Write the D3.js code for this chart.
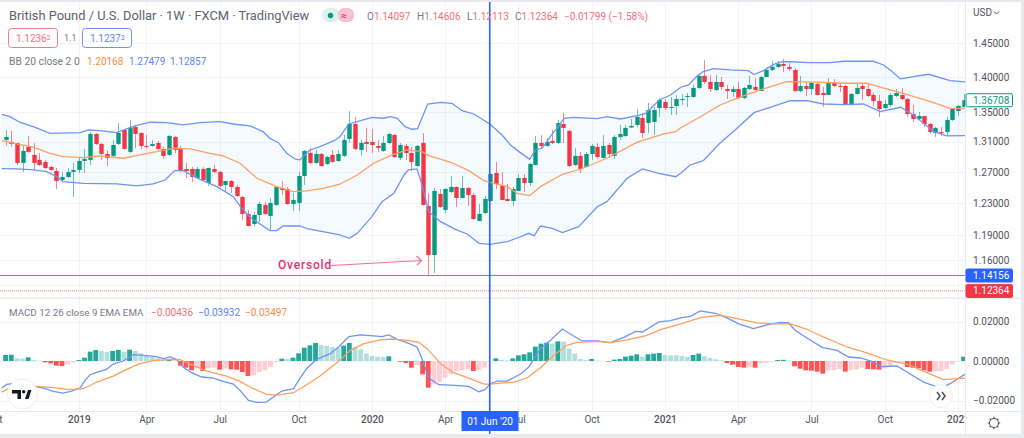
<!DOCTYPE html>
<html>
<head>
<meta charset="utf-8">
<script src="https://cdn.jsdelivr.net/npm/d3@7"></script>
<style>
html, body { margin: 0; padding: 0; background: #fff; }
svg { display: block; font-family: Roboto, sans-serif; }
.axis path, .axis line { display: none; }
.axis text { fill: #50535e; font-size: 10px; font-family: Roboto, sans-serif; }
</style>
</head>
<body>
<svg id="chart" width="1024" height="438"></svg>
<script>
// weekly candles
var opens = [1.3124,1.3097,1.3083,1.2817,1.3030,1.2923,1.2857,1.2830,1.2764,1.2712,
1.2594,1.2633,1.2699,1.2725,1.2843,1.2857,1.3205,1.3070,1.2936,1.2910,
1.3070,1.3259,1.2963,1.3300,1.3218,1.3043,1.3043,1.3083,1.3003,1.2923,
1.3164,1.3003,1.2738,1.2738,1.2620,1.2738,1.2555,1.2738,1.2699,1.2530,
1.2581,1.2504,1.2376,1.2162,1.2037,1.2149,1.2275,1.2137,1.2275,1.2491,
1.2478,1.2287,1.2300,1.2646,1.2949,1.2817,1.2936,1.2804,1.2923,1.2843,
1.2910,1.3137,1.3341,1.2989,1.3097,1.3097,1.3043,1.2976,1.3083,1.3191,
1.2883,1.3043,1.2949,1.2777,1.3083,1.2262,1.1659,1.2414,1.2212,1.2440,
1.2504,1.2363,1.2491,1.2401,1.2074,1.2174,1.2325,1.2685,1.2517,1.2351,
1.2325,1.2453,1.2620,1.2555,1.2790,1.3083,1.3043,1.3110,1.3083,1.3341,
1.3246,1.2790,1.2910,1.2764,1.2936,1.3030,1.2883,1.3056,1.2910,1.3164,
1.3178,1.3293,1.3328,1.3424,1.3355,1.3369,1.3562,1.3646,1.3562,1.3590,
1.3674,1.3717,1.3717,1.3845,1.4017,1.3930,1.3816,1.3930,1.3830,1.3788,
1.3830,1.3703,1.3830,1.3859,1.3802,1.4002,1.4104,1.4147,1.4191,1.4147,
1.4104,1.3802,1.3873,1.3830,1.3902,1.3773,1.3745,1.3916,1.3873,1.3873,
1.3604,1.3759,1.3873,1.3830,1.3745,1.3660,1.3562,1.3604,1.3731,1.3745,
1.3688,1.3479,1.3410,1.3451,1.3341,1.3218,1.3232,1.3232,1.3396,1.3521,
1.3576];
var highs = [1.3259,1.3246,1.3090,1.3056,1.3178,1.3083,1.2949,1.2857,1.2777,1.2751,
1.2699,1.2751,1.2817,1.2883,1.3003,1.3232,1.3218,1.3083,1.2989,1.3124,
1.3355,1.3273,1.3396,1.3328,1.3232,1.3191,1.3124,1.3110,1.3030,1.3191,
1.3178,1.3043,1.2817,1.2764,1.2764,1.2764,1.2755,1.2790,1.2712,1.2585,
1.2594,1.2530,1.2389,1.2212,1.2187,1.2313,1.2313,1.2363,1.2517,1.2581,
1.2504,1.2427,1.2699,1.2989,1.3016,1.2989,1.2949,1.2910,1.2989,1.2989,
1.3191,1.3521,1.3438,1.3124,1.3287,1.3273,1.3124,1.3178,1.3218,1.3205,
1.3083,1.3070,1.3030,1.3056,1.3218,1.2427,1.2491,1.2478,1.2491,1.2646,
1.2510,1.2646,1.2504,1.2427,1.2287,1.2389,1.2685,1.2830,1.2699,1.2543,
1.2504,1.2672,1.2672,1.2817,1.3178,1.3191,1.3151,1.3259,1.3396,1.3493,
1.3259,1.3016,1.2963,1.2963,1.3070,1.3083,1.3191,1.3083,1.3191,1.3328,
1.3328,1.3410,1.3548,1.3493,1.3632,1.3576,1.3703,1.3688,1.3717,1.3745,
1.3759,1.3773,1.3887,1.4046,1.4249,1.4031,1.4031,1.4002,1.3887,1.3873,
1.3930,1.3859,1.4017,1.3988,1.4017,1.4133,1.4234,1.4234,1.4264,1.4205,
1.4133,1.4017,1.3930,1.3930,1.3930,1.3859,1.3988,1.3974,1.3916,1.3887,
1.3773,1.3902,1.3902,1.3916,1.3773,1.3745,1.3674,1.3773,1.3830,1.3845,
1.3703,1.3604,1.3507,1.3455,1.3355,1.3300,1.3300,1.3438,1.3562,1.3604,
1.3759];
var lows = [1.3043,1.3030,1.2790,1.2699,1.2949,1.2725,1.2777,1.2738,1.2712,1.2478,
1.2568,1.2620,1.2376,1.2685,1.2685,1.2790,1.3056,1.2857,1.2777,1.2896,
1.3056,1.2989,1.2949,1.3016,1.3003,1.3003,1.3030,1.2989,1.2870,1.2910,
1.2949,1.2699,1.2620,1.2568,1.2607,1.2590,1.2517,1.2685,1.2504,1.2440,
1.2427,1.2376,1.2087,1.2008,1.2012,1.2062,1.2149,1.1963,1.2262,1.2401,
1.2275,1.2199,1.2199,1.2530,1.2804,1.2804,1.2764,1.2790,1.2817,1.2830,
1.2896,1.3083,1.2989,1.2910,1.2963,1.2949,1.2963,1.2963,1.3070,1.2883,
1.2857,1.2857,1.2712,1.2764,1.2270,1.1416,1.1445,1.2237,1.2174,1.2427,
1.2249,1.2360,1.2262,1.2087,1.2070,1.2162,1.2313,1.2478,1.2335,1.2320,
1.2262,1.2450,1.2440,1.2517,1.2785,1.3003,1.3030,1.3070,1.3070,1.3083,
1.2764,1.2777,1.2685,1.2760,1.2857,1.2870,1.2880,1.2883,1.2870,1.3124,
1.3164,1.3287,1.3300,1.3151,1.3218,1.3191,1.3438,1.3535,1.3465,1.3465,
1.3604,1.3576,1.3703,1.3830,1.3902,1.3788,1.3802,1.3816,1.3688,1.3717,
1.3688,1.3688,1.3816,1.3810,1.3795,1.3998,1.4089,1.4133,1.4075,1.4089,
1.3788,1.3788,1.3731,1.3745,1.3740,1.3576,1.3740,1.3859,1.3788,1.3598,
1.3598,1.3752,1.3674,1.3717,1.3590,1.3438,1.3548,1.3576,1.3717,1.3674,
1.3438,1.3369,1.3396,1.3300,1.3205,1.3164,1.3178,1.3178,1.3383,1.3451,
1.3570];
var closes = [1.3164,1.3070,1.2817,1.2976,1.2963,1.2817,1.2790,1.2751,1.2725,1.2581,
1.2633,1.2699,1.2725,1.2843,1.2870,1.3205,1.3070,1.2936,1.2883,1.3056,
1.3218,1.3003,1.3287,1.3205,1.3043,1.3030,1.3070,1.3003,1.2910,1.3178,
1.2989,1.2712,1.2712,1.2633,1.2738,1.2594,1.2751,1.2699,1.2517,1.2581,
1.2504,1.2389,1.2162,1.2012,1.2149,1.2287,1.2162,1.2300,1.2504,1.2465,
1.2287,1.2338,1.2646,1.2976,1.2817,1.2936,1.2777,1.2896,1.2830,1.2936,
1.3124,1.3341,1.3003,1.3083,1.3070,1.3056,1.3016,1.3083,1.3205,1.2896,
1.3056,1.2949,1.2830,1.3043,1.2275,1.1659,1.2453,1.2249,1.2478,1.2504,
1.2363,1.2491,1.2401,1.2099,1.2162,1.2351,1.2672,1.2543,1.2338,1.2325,
1.2478,1.2620,1.2555,1.2804,1.3083,1.3043,1.3097,1.3083,1.3355,1.3287,
1.2777,1.2910,1.2738,1.2936,1.3043,1.2896,1.3043,1.2936,1.3164,1.3205,
1.3287,1.3314,1.3438,1.3218,1.3535,1.3535,1.3674,1.3562,1.3576,1.3688,
1.3688,1.3731,1.3845,1.4017,1.3930,1.3830,1.3930,1.3859,1.3802,1.3830,
1.3703,1.3845,1.3887,1.3816,1.4002,1.4104,1.4147,1.4191,1.4162,1.4118,
1.3802,1.3873,1.3830,1.3916,1.3745,1.3745,1.3916,1.3873,1.3859,1.3604,
1.3759,1.3845,1.3830,1.3731,1.3660,1.3548,1.3618,1.3745,1.3773,1.3688,
1.3479,1.3410,1.3451,1.3341,1.3232,1.3287,1.3225,1.3396,1.3548,1.3590,
1.36708];

// bollinger bands: candle number + price, read where the line bends
var upperIdx = [-0.7,0.8,2.5,4.9,7.9,13.2,14.7,16.7,19.7,21.8,23,25.6,28.6,31.5,34.5,38,40.4,43.4,45.7,46.9,48.4,49.9,51.4,52.2,54,55.8,58.2,59.3,60.9,63,65,67.1,68.3,69.5,70.9,72.1,73.1,74.9,77.2,79.2,81,83.1,86,88.1,89.6,91.1,93,94,95.2,97.3,97.9,99.1,100.8,105,106.7,109.1,112.1,113.6,116,118,119.8,121.2,122.7,123.8,125.6,128.6,131.8,132.8,134.5,136.3,137.8,139.2,142.8,146.3,148.7,154,155.8,157.3,158.8,161.1,163.8,167.6,170.3];
var upperVals = [1.3475,1.3441,1.3365,1.3304,1.3214,1.3222,1.3259,1.3250,1.3222,1.3283,1.3314,1.3365,1.3360,1.3328,1.3360,1.3373,1.3341,1.3314,1.3236,1.3147,1.3087,1.2945,1.2866,1.2857,1.2989,1.3034,1.3110,1.3168,1.3341,1.3386,1.3433,1.3420,1.3441,1.3420,1.3304,1.3269,1.3277,1.3618,1.3642,1.3628,1.3525,1.3479,1.3337,1.3191,1.3056,1.2967,1.2866,1.2989,1.3012,1.3236,1.3283,1.3420,1.3433,1.3415,1.3441,1.3410,1.3456,1.3488,1.3674,1.3745,1.3855,1.3887,1.4017,1.4080,1.4122,1.4104,1.4094,1.4036,1.4094,1.4185,1.4223,1.4223,1.4209,1.4209,1.4230,1.4230,1.4176,1.4080,1.3974,1.4006,1.4041,1.3949,1.3930];
var lowerIdx = [-0.7,2,4.9,7.3,9.1,10.2,13.8,19.7,23.3,26.2,28.3,30,31.5,34.5,37.5,40.4,41.9,43.4,45.4,46.9,48.1,49.3,52.2,53.7,59.3,61,62.4,65,66.8,68.9,70.7,71.5,73,73.9,75.1,77.2,79.8,81.9,84,86,89,91.4,92.8,93.8,94.9,97,98.8,101.7,105,106.7,110.3,113,115.9,118.9,119.8,121.5,123.8,126.8,129.8,132.8,135.7,139.2,142.2,145.1,148.7,152.2,155.2,158.8,161.1,164.7,167,170.3];
var lowerVals = [1.2742,1.2738,1.2725,1.2703,1.2637,1.2572,1.2551,1.2543,1.2517,1.2543,1.2594,1.2716,1.2716,1.2603,1.2508,1.2380,1.2233,1.2120,1.2025,1.1956,1.1956,1.2012,1.2012,1.1975,1.1902,1.1861,1.1922,1.2128,1.2316,1.2423,1.2659,1.2725,1.2738,1.2530,1.2190,1.2066,1.1971,1.1914,1.1800,1.1788,1.1820,1.1880,1.1922,1.1890,1.2012,1.1983,1.1930,1.2004,1.2253,1.2316,1.2616,1.2738,1.2681,1.2637,1.2681,1.2790,1.2848,1.3083,1.3283,1.3497,1.3572,1.3664,1.3664,1.3618,1.3608,1.3618,1.3511,1.3572,1.3465,1.3236,1.3178,1.3182];
var basisIdx = [-0.7,2,4.9,7.9,10.2,13.8,16.7,20.9,23.8,26.8,29.8,32.7,36.3,38.6,41.6,44.6,48.1,51.1,53.4,56.4,59.3,62.4,65.3,68.3,71.2,73.9,75.1,79,82.2,84.9,86.6,89,90.8,93,94.9,98.8,102,106.7,112.1,116.8,118.9,119.7,123.3,126.8,130.1,133.9,138.6,143.4,149.3,152.8,155.2,159.9,164.1,167.6,170.3];
var basisVals = [1.3114,1.3070,1.3026,1.2945,1.2900,1.2887,1.2910,1.2879,1.2923,1.2967,1.3012,1.3003,1.2945,1.2910,1.2813,1.2616,1.2508,1.2444,1.2453,1.2487,1.2539,1.2659,1.2813,1.2914,1.2989,1.2967,1.2914,1.2826,1.2716,1.2585,1.2551,1.2508,1.2423,1.2393,1.2508,1.2668,1.2734,1.2879,1.3093,1.3205,1.3236,1.3283,1.3441,1.3604,1.3707,1.3816,1.3935,1.3927,1.3912,1.3912,1.3855,1.3755,1.3652,1.3558,1.3558];

// macd pane
var macdIdx = [-0.7,0.2,1.4,3.1,4.9,6.7,8.5,10.2,11.7,13.2,14.1,15,16.2,17.9,19.1,20.9,22.7,25,26.8,28,29.2,30.4,31.5,33,34.8,36.9,38.6,40.4,41.6,43.1,44.6,46.3,47.5,49,51.1,52.2,53.4,55.2,57.6,59.1,60.9,63,65.3,66.8,68,69.5,71.2,73,73.9,75.1,76.9,78.9,82.2,84,85.1,86,87.2,89,91.4,92.8,94.9,96.7,98.8,100.8,102.3,105,107.3,109.7,111.8,113,115.9,118,119.8,121.5,123.3,125.9,128,130.1,132.7,135.1,137.5,138.9,140.1,142.2,144.9,147.5,149.6,151.7,153.7,155.5,158.2,160.5,162.9,165.9,167.6,170.3];
var macdVals = [-0.01369,-0.01183,-0.01132,-0.01166,-0.01268,-0.01369,-0.01538,-0.01622,-0.01521,-0.01369,-0.0098,-0.00693,-0.00575,-0.00423,-0.00152,0,0.00321,0.0027,0.0022,0.00118,0.00203,0.00068,-0.00304,-0.00592,-0.00811,-0.00862,-0.01031,-0.01166,-0.01487,-0.01994,-0.02096,-0.02079,-0.01825,-0.01521,-0.01403,-0.00896,-0.00389,0.00085,0.00372,0.0071,0.01234,0.01318,0.01268,0.01234,0.01318,0.01099,0.0093,0.0071,0.00118,-0.00862,-0.012,-0.01217,-0.01284,-0.01555,-0.01453,-0.01149,-0.01014,-0.01014,-0.00659,-0.00321,0.00625,0.01048,0.01622,0.01268,0.01014,0.01014,0.0093,0.012,0.01504,0.0147,0.01977,0.02045,0.0218,0.02265,0.02535,0.02417,0.0218,0.01876,0.01639,0.01825,0.0196,0.01944,0.01555,0.01166,0.00693,0.00541,0.00203,0.00152,-0.00017,-0.00287,-0.00254,-0.00659,-0.01065,-0.01369,-0.01149,-0.00659];
var signalIdx = [-0.7,2,4.9,8.5,11.4,13.8,16.2,19.1,21.5,23.8,26.2,29.2,30.9,33.3,35.7,39.2,41.6,44,46.3,48.1,51.1,53.4,55.8,59.1,61.2,63.6,66.5,68.6,71.2,73.3,74.8,77.2,79.5,82.2,84.9,86,90.2,92.5,94.9,97.3,99.6,101.4,105,107.3,110.3,113.8,116.2,119.8,123.3,126.8,129.8,133.3,136.9,139.2,142.2,145.1,149.3,152.8,156.4,159.9,163.5,166.4,170.3];
var signalVals = [-0.01572,-0.012,-0.01268,-0.01352,-0.01453,-0.01403,-0.01065,-0.00761,-0.00423,-0.00135,0.00017,0.00085,0.00068,-0.0022,-0.00507,-0.00761,-0.01031,-0.01403,-0.0169,-0.01724,-0.01606,-0.012,-0.00761,-0.00017,0.00541,0.00879,0.01065,0.01115,0.01048,0.00946,0.00625,-0.00135,-0.00592,-0.00862,-0.01166,-0.01166,-0.01065,-0.00862,-0.00338,0.00287,0.00794,0.00946,0.00997,0.0093,0.01065,0.01301,0.01589,0.01876,0.02197,0.02315,0.02146,0.01927,0.01876,0.01893,0.01606,0.01217,0.0071,0.00406,0.00051,-0.00152,-0.00592,-0.00946,-0.00862];
var histVals = [0.00304,0.00321,0.00135,0.00118,0.00186,0.00051,0.00017,-0.00068,-0.00118,-0.00237,
-0.00254,-0.00169,-0.00085,0.00051,0.00169,0.00473,0.00558,0.00507,0.00456,0.00507,
0.00558,0.00473,0.00575,0.00507,0.00389,0.0027,0.00203,0.00135,0.00051,0.00085,
0.00017,-0.00237,-0.00338,-0.00473,-0.00372,-0.00507,-0.00372,-0.00338,-0.00439,-0.00372,
-0.00423,-0.00439,-0.00558,-0.0076,-0.00727,-0.00558,-0.00473,-0.00304,-0.00051,0.00118,
0.00101,0.00169,0.00389,0.00676,0.00794,0.00913,0.00811,0.0076,0.0071,0.00642,
0.00777,0.00913,0.0071,0.00592,0.00389,0.00254,0.0022,0.00203,0.00237,0.00008,
-0.00034,-0.00101,-0.00338,-0.00203,-0.00676,-0.01352,-0.01183,-0.01048,-0.00845,-0.00676,
-0.00507,-0.00473,-0.00406,-0.00507,-0.00473,-0.00338,-0.00005,0.00135,0.00051,0.00034,
0.00135,0.00287,0.00338,0.00439,0.00727,0.00879,0.0093,0.00879,0.00997,0.0098,
0.00625,0.00372,0.00101,0.00051,0.00101,0.00017,0.00008,-0.00034,0.00068,0.00101,
0.0022,0.0027,0.00338,0.0022,0.00338,0.00372,0.00406,0.00304,0.00287,0.00287,
0.00254,0.00203,0.00304,0.00372,0.00237,0.00152,0.00085,0.00034,-0.00101,-0.00186,
-0.00304,-0.00338,-0.00304,-0.00338,-0.00118,-0.00085,-0.00034,0.00051,0.00059,0.00017,
-0.0027,-0.00389,-0.00473,-0.0049,-0.00541,-0.00642,-0.00473,-0.00456,-0.00406,-0.00541,
-0.00473,-0.00423,-0.00338,-0.00406,-0.00423,-0.00439,-0.00372,-0.00254,-0.00085,-0.00051,
-0.00304,-0.00338,-0.00372,-0.00473,-0.00541,-0.00524,-0.00507,-0.00406,-0.00169,-0.00017,
0.0022];

// axis labels
var priceTicks = [1.45,1.40,1.35,1.31,1.27,1.23,1.19,1.16];
var hiddenGridTick = 1.13; // its label sits under the price tags
var macdTicks = [0.02,0,-0.02];
var timeTickIdx = [-2,13,25,38,52,65,78,91,104,117,130,143,156,169];
var timeTickText = ["Oct","2019","Apr","Jul","Oct","2020","Apr","Jul","Oct","2021","Apr","Jul","Oct","2022"];
var boldTicks = ["2019","2020","2021","2022"];
var cursorIdx = 86;
var lastPrice = 1.12364;
var lineLevel = 1.14156;
var shownClose = 1.36708;

var upCol = "#089981", downCol = "#f23645";
var blue = "#2962ff", bandLine = "#6f93f7", orange = "#ff9f5e";
var gridCol = "#f1f3f8", txtCol = "#50535e";

var svg = d3.select("#chart");

var x = d3.scaleLinear().domain([0, 170]).range([5.6, 963.6]);
var y = d3.scaleLog().domain([1.45, 1.14156]).range([43, 275.5]);
var yM = d3.scaleLinear().domain([0.02, -0.02]).range([321.5, 400.5]);

var defs = svg.append("defs");
defs.append("clipPath").attr("id", "pricePane").append("rect").attr("x", 0).attr("y", 2).attr("width", 965).attr("height", 295);
defs.append("clipPath").attr("id", "macdPane").append("rect").attr("x", 0).attr("y", 299).attr("width", 965).attr("height", 112);
defs.append("clipPath").attr("id", "timePane").append("rect").attr("x", 0).attr("y", 411).attr("width", 965).attr("height", 24);

// grid
var grid = svg.append("g").attr("stroke", gridCol).attr("stroke-width", 1);
grid.selectAll(".hp").data(priceTicks.concat([hiddenGridTick])).enter().append("line")
    .attr("x1", 0).attr("x2", 965)
    .attr("y1", d => Math.round(y(d)) + 0.5).attr("y2", d => Math.round(y(d)) + 0.5);
grid.selectAll(".hm").data(macdTicks).enter().append("line")
    .attr("x1", 0).attr("x2", 965)
    .attr("y1", d => Math.round(yM(d)) + 0.5).attr("y2", d => Math.round(yM(d)) + 0.5);
grid.selectAll(".vg").data(timeTickIdx).enter().append("line")
    .attr("x1", d => Math.round(x(d)) + 0.5).attr("x2", d => Math.round(x(d)) + 0.5)
    .attr("y1", 2).attr("y2", 411);

// bollinger band
var pricePane = svg.append("g").attr("clip-path", "url(#pricePane)");
var upperPts = upperIdx.map((d, i) => [x(d), y(upperVals[i])]);
var lowerPts = lowerIdx.map((d, i) => [x(d), y(lowerVals[i])]);
var lineGen = d3.line();
pricePane.append("path")
    .attr("d", lineGen(upperPts.concat(lowerPts.slice().reverse())) + "Z")
    .attr("fill", "#2196f3").attr("fill-opacity", 0.05);

// candles
var cand = pricePane.selectAll(".candle").data(d3.range(opens.length)).enter().append("g");
cand.append("line")
    .attr("x1", d => Math.round(x(d)) + 0.5).attr("x2", d => Math.round(x(d)) + 0.5)
    .attr("y1", d => y(highs[d])).attr("y2", d => y(lows[d]))
    .attr("stroke", d => closes[d] >= opens[d] ? upCol : downCol)
    .attr("stroke-opacity", 0.6);
cand.append("rect")
    .attr("x", d => Math.round(x(d)) - 1.7)
    .attr("width", 4.4)
    .attr("y", d => y(Math.max(opens[d], closes[d])))
    .attr("height", d => Math.max(1, y(Math.min(opens[d], closes[d])) - y(Math.max(opens[d], closes[d]))))
    .attr("fill", d => closes[d] >= opens[d] ? upCol : downCol);

pricePane.append("path").attr("d", lineGen(upperPts)).attr("fill", "none").attr("stroke", bandLine).attr("stroke-width", 1.3);
pricePane.append("path").attr("d", lineGen(lowerPts)).attr("fill", "none").attr("stroke", bandLine).attr("stroke-width", 1.3);
pricePane.append("path").attr("d", lineGen(basisIdx.map((d, i) => [x(d), y(basisVals[i])])))
    .attr("fill", "none").attr("stroke", orange).attr("stroke-width", 1.3);

// horizontal level + last price line
pricePane.append("line").attr("x1", 0).attr("x2", 965).attr("y1", y(lineLevel)).attr("y2", y(lineLevel))
    .attr("stroke", "#5c84f5").attr("stroke-width", 1.1);
pricePane.append("line").attr("x1", 0).attr("x2", 965).attr("y1", y(lastPrice)).attr("y2", y(lastPrice))
    .attr("stroke", "#f77c80").attr("stroke-width", 1).attr("stroke-dasharray", "1 1");

// oversold note
svg.append("text").attr("x", 278).attr("y", 269).attr("fill", "#ea2e6d").attr("font-weight", 500)
    .attr("font-size", 12).attr("letter-spacing", 0.8).text("Oversold");
svg.append("path").attr("d", "M331,265.5L421,260.5M416.5,256L421.5,260.5L417,265")
    .attr("fill", "none").attr("stroke", "#ef6f98").attr("stroke-width", 1.2);

// macd histogram and lines
var macdPane = svg.append("g").attr("clip-path", "url(#macdPane)");
function histCol(i) {
    var v = histVals[i];
    var rising = i > 0 ? v > histVals[i - 1] : true;
    if (v >= 0) return rising ? "#26a69a" : "#b2dfdb";
    return rising ? "#ffcdd2" : "#ff5252";
}
macdPane.selectAll(".bar").data(histVals).enter().append("rect")
    .attr("x", (d, i) => x(i) - 2.4)
    .attr("width", 4.8)
    .attr("y", d => Math.min(yM(d), yM(0)))
    .attr("height", d => Math.abs(yM(d) - yM(0)))
    .attr("fill", (d, i) => histCol(i));
macdPane.append("path").attr("d", lineGen(macdIdx.map((d, i) => [x(d), yM(macdVals[i])])))
    .attr("fill", "none").attr("stroke", bandLine).attr("stroke-width", 1.3);
macdPane.append("path").attr("d", lineGen(signalIdx.map((d, i) => [x(d), yM(signalVals[i])])))
    .attr("fill", "none").attr("stroke", orange).attr("stroke-width", 1.3);

// frame lines
var frame = "#e8eaf0";
svg.append("rect").attr("width", 1024).attr("height", 2).attr("fill", frame);
svg.append("rect").attr("y", 434).attr("width", 1024).attr("height", 4).attr("fill", frame);
svg.append("rect").attr("y", 297.5).attr("width", 1024).attr("height", 1.5).attr("fill", frame);
svg.append("rect").attr("x", 1021).attr("width", 3).attr("height", 438).attr("fill", frame);
svg.append("line").attr("x1", 965.5).attr("x2", 965.5).attr("y1", 2).attr("y2", 434).attr("stroke", frame);
svg.append("line").attr("x1", 0).attr("x2", 1021).attr("y1", 411.5).attr("y2", 411.5).attr("stroke", frame);

// axes
svg.append("g").attr("class", "axis").attr("transform", "translate(966,0)")
    .call(d3.axisRight(y).tickValues(priceTicks).tickFormat(d3.format(".5f")).tickSize(0).tickPadding(7));
svg.append("g").attr("class", "axis").attr("transform", "translate(966,0)")
    .call(d3.axisRight(yM).tickValues(macdTicks).tickFormat(d3.format(".5f")).tickSize(0).tickPadding(7));
var timeG = svg.append("g").attr("clip-path", "url(#timePane)").append("g")
    .attr("class", "axis").attr("transform", "translate(0,411)")
    .call(d3.axisBottom(x).tickValues(timeTickIdx).tickFormat((d, i) => timeTickText[i]).tickSize(0).tickPadding(5));
timeG.selectAll("text")
    .attr("font-weight", (d, i) => boldTicks.indexOf(timeTickText[i]) >= 0 ? 500 : 400);

svg.append("text").attr("x", 973).attr("y", 16).attr("font-size", 10).attr("fill", txtCol).text("USD");
svg.append("path").attr("d", "M994,11.5L996.5,14L999,11.5").attr("fill", "none").attr("stroke", txtCol);

// price tags
function tag(val, fill, stroke, color) {
    var t = y(val);
    svg.append("rect").attr("x", 966).attr("y", t - 6.5).attr("width", 46.5).attr("height", 13)
        .attr("rx", 1.5).attr("fill", fill).attr("stroke", stroke);
    svg.append("text").attr("x", 973).attr("y", t + 3.6).attr("font-size", 10)
        .attr("fill", color).text(d3.format(".5f")(val));
}
tag(shownClose, "#fff", upCol, upCol);
tag(lineLevel, blue, blue, "#fff");
tag(lastPrice, downCol, downCol, "#fff");

// crosshair
svg.append("line").attr("x1", x(cursorIdx) - 0.5).attr("x2", x(cursorIdx) - 0.5).attr("y1", 2).attr("y2", 434)
    .attr("stroke", blue).attr("stroke-width", 1.6);
svg.append("rect").attr("x", 461.5).attr("y", 411).attr("width", 57).attr("height", 20).attr("fill", blue);
svg.append("text").attr("x", 490).attr("y", 425).attr("text-anchor", "middle")
    .attr("font-size", 10).attr("fill", "#fff").text("01 Jun '20");

// legend
svg.append("text").attr("x", 9).attr("y", 20).attr("font-size", 12.85).attr("fill", "#5d606b")
    .text("British Pound / U.S. Dollar · 1W · FXCM · TradingView");
svg.append("rect").attr("x", 322).attr("y", 8).attr("width", 18).attr("height", 14).attr("rx", 7).attr("fill", "#dcf1ec");
svg.append("circle").attr("cx", 330.5).attr("cy", 15.5).attr("r", 2.7).attr("fill", upCol);
svg.append("rect").attr("x", 338).attr("y", 8).attr("width", 16).attr("height", 14).attr("rx", 6).attr("fill", "#f9c0d4");
svg.append("text").attr("x", 341).attr("y", 19).attr("font-size", 10).attr("fill", "#c2185b").text("≈");

var ohlcParts = [["O", "1.14097"], ["H", "1.14606"], ["L", "1.12113"], ["C", "1.12364"]];
var ohlcX = [367, 417, 467, 515];
ohlcParts.forEach(function (p, i) {
    var t = svg.append("text").attr("x", ohlcX[i]).attr("y", 20).attr("font-size", 10);
    t.append("tspan").attr("fill", "#777a85").text(p[0]);
    t.append("tspan").attr("fill", "#f4707c").text(p[1]);
});
svg.append("text").attr("x", 564).attr("y", 20).attr("font-size", 10).attr("fill", "#f4707c").text("−0.01799 (−1.58%)");

svg.append("rect").attr("x", 8.5).attr("y", 28.5).attr("width", 49).attr("height", 19).attr("rx", 3)
    .attr("fill", "#fff").attr("stroke", "#f77c80");
svg.append("text").attr("x", 16).attr("y", 42).attr("font-size", 10).attr("fill", "#f4707c")
    .append("tspan").text("1.1236").append("tspan").attr("font-size", 7).attr("dy", -2).text("2");
svg.append("text").attr("x", 64).attr("y", 41).attr("font-size", 9).attr("fill", "#777a85").text("1.1");
svg.append("rect").attr("x", 82.5).attr("y", 28.5).attr("width", 49).attr("height", 19).attr("rx", 3)
    .attr("fill", "#fff").attr("stroke", "#6f93f7");
svg.append("text").attr("x", 90).attr("y", 42).attr("font-size", 10).attr("fill", "#5c84f5")
    .append("tspan").text("1.1237").append("tspan").attr("font-size", 7).attr("dy", -2).text("3");

var bb = svg.append("text").attr("x", 9).attr("y", 65).attr("font-size", 10.3);
bb.append("tspan").attr("fill", "#777a85").text("BB 20 close 2 0");
svg.append("text").attr("x", 87).attr("y", 65).attr("font-size", 10).attr("fill", "#ff8a3d").text("1.20168");
svg.append("text").attr("x", 129).attr("y", 65).attr("font-size", 10).attr("fill", "#5c84f5").text("1.27479");
svg.append("text").attr("x", 170).attr("y", 65).attr("font-size", 10).attr("fill", "#5c84f5").text("1.12857");

svg.append("text").attr("x", 9).attr("y", 316).attr("font-size", 9.8).attr("fill", "#777a85").text("MACD 12 26 close 9 EMA EMA");
svg.append("text").attr("x", 151).attr("y", 316).attr("font-size", 10).attr("fill", "#f4707c").text("−0.00436");
svg.append("text").attr("x", 198).attr("y", 316).attr("font-size", 10).attr("fill", "#5c84f5").text("−0.03932");
svg.append("text").attr("x", 245).attr("y", 316).attr("font-size", 10).attr("fill", "#ff8a3d").text("−0.03497");

// logo button
svg.append("circle").attr("cx", 22.5).attr("cy", 394).attr("r", 15).attr("fill", "#fff").attr("stroke", "#eceef3");
svg.append("path").attr("d", "M12,390H21V399H17.5V393.5H12ZM25,399L28,390H31.5L28.5,399Z").attr("fill", "#131722");
svg.append("circle").attr("cx", 23.7).attr("cy", 391.7).attr("r", 1.7).attr("fill", "#131722");

// scroll button
svg.append("circle").attr("cx", 941).attr("cy", 396).attr("r", 11.5).attr("fill", "#fff").attr("stroke", "#eceef3");
svg.append("path").attr("d", "M937,392L940,396L937,400M942,392L945,396L942,400").attr("fill", "none")
    .attr("stroke", "#50535e").attr("stroke-width", 1.6);

// settings gear
svg.append("circle").attr("cx", 994).attr("cy", 423).attr("r", 4.5).attr("fill", "none").attr("stroke", "#50535e").attr("stroke-width", 1.1);
svg.selectAll(".tooth").data(d3.range(8)).enter().append("line")
    .attr("x1", d => 994 + 4.5 * Math.cos(d * Math.PI / 4)).attr("y1", d => 423 + 4.5 * Math.sin(d * Math.PI / 4))
    .attr("x2", d => 994 + 6.2 * Math.cos(d * Math.PI / 4)).attr("y2", d => 423 + 6.2 * Math.sin(d * Math.PI / 4))
    .attr("stroke", "#50535e").attr("stroke-width", 1.1);
</script>
</body>
</html>
